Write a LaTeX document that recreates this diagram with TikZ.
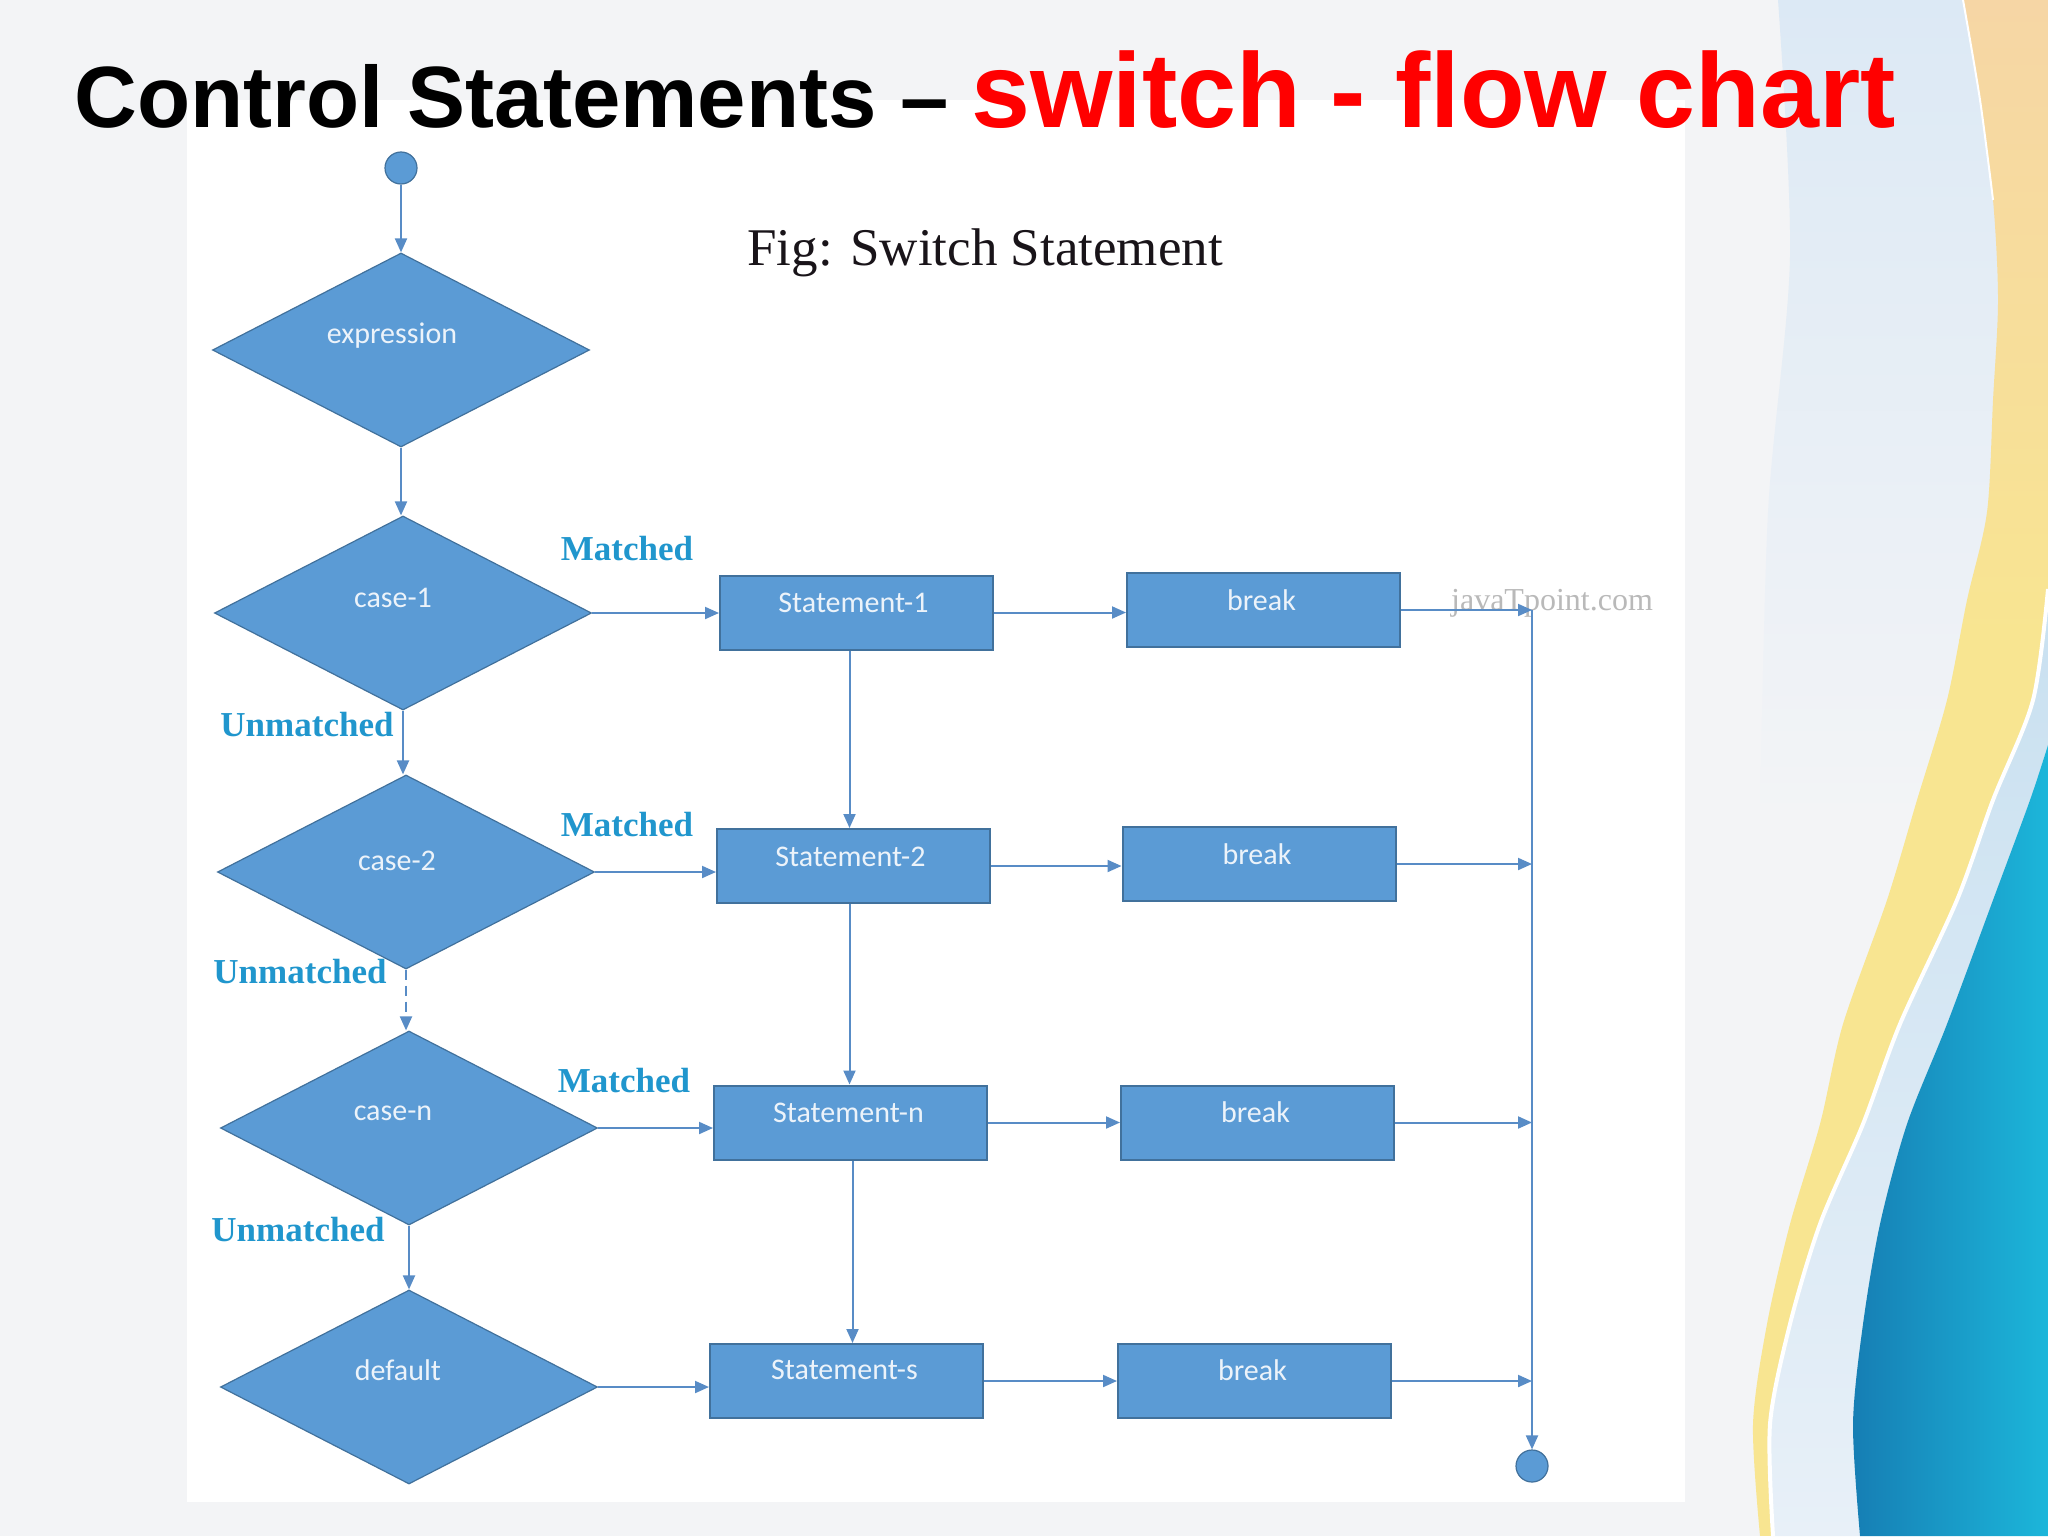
\documentclass[tikz,border=0pt]{standalone}
\usepackage{fontspec}
\setmainfont{Liberation Serif}
\newfontfamily\titlefont{Liberation Sans}
\newfontfamily\nodefont{Carlito}
\usetikzlibrary{shapes.geometric,arrows.meta,calc}

\definecolor{boxfill}{RGB}{91,155,213}
\definecolor{boxline}{RGB}{65,113,156}
\definecolor{arrcol}{RGB}{88,140,198}
\definecolor{lblcol}{RGB}{32,150,205}
\definecolor{ntext}{RGB}{236,243,250}
\definecolor{slidebg}{RGB}{243,244,246}
\definecolor{titlered}{RGB}{255,0,0}
\definecolor{peach}{RGB}{246,214,165}
\definecolor{sand}{RGB}{248,229,145}
\definecolor{paleblue}{RGB}{200,224,240}
\definecolor{paleblue2}{RGB}{232,240,248}
\definecolor{tealdark}{RGB}{22,126,180}
\definecolor{teallight}{RGB}{28,182,218}
\definecolor{topblue}{RGB}{220,233,245}
\definecolor{wmark}{RGB}{185,185,185}
\definecolor{captxt}{RGB}{25,20,25}

\begin{document}
\begin{tikzpicture}[x=0.5pt,y=-0.5pt,
  dia/.style={diamond, fill=boxfill, draw=boxline, line width=0.6pt,
    minimum width=188.5pt, minimum height=97pt, inner sep=0pt},
  boxn/.style={rectangle, fill=boxfill, draw=boxline, line width=1pt,
    minimum width=136.5pt, minimum height=37pt, inner sep=0pt},
  ntxt/.style={font=\nodefont\fontsize{15}{18}\selectfont, text=ntext, inner sep=0pt},
  lbl/.style={font=\bfseries\fontsize{17.5}{20}\selectfont, text=lblcol, inner sep=0pt},
  arr/.style={draw=arrcol, line width=1pt, -{Triangle[length=7pt,width=6pt]}},
  term/.style={circle, fill=boxfill, draw=boxline, line width=0.6pt,
    minimum size=16pt, inner sep=0pt}]

\useasboundingbox (0,0) rectangle (2048,1536);

% ---------- slide background ----------
\fill[slidebg] (0,0) rectangle (2048,1536);
\shade[top color=topblue, bottom color=slidebg]
  plot[smooth] coordinates {(1778,0) (1790,256) (1768,512) (1760,820)}
  -- (2000,820) -- (2000,0) -- cycle;
\begin{scope}
  \clip plot[smooth] coordinates {(1963,0) (1980,100) (1993,200) (1998,300) (1993,400)
    (1987,512) (1967,600) (1947,700) (1917,800) (1887,900) (1843,1024)
    (1820,1124) (1790,1224) (1767,1324) (1753,1424) (1760,1536)}
  -- plot[smooth] coordinates {(1773,1536) (1770,1424) (1790,1324) (1820,1224)
    (1863,1124) (1900,1024) (1957,900) (1993,800) (2033,700) (2048,589)}
  -- (2048,0) -- cycle;
  \shade[top color=peach, bottom color=sand] (1700,0) rectangle (2048,640);
  \fill[sand] (1700,639) rectangle (2048,1536);
\end{scope}
\shade[top color=paleblue, bottom color=paleblue2]
  plot[smooth] coordinates {(2048,589) (2033,700) (1993,800) (1957,900) (1900,1024)
    (1863,1124) (1820,1224) (1790,1324) (1770,1424) (1773,1536)}
  -- plot[smooth] coordinates {(1860,1536) (1853,1424) (1863,1324) (1880,1224)
    (1907,1124) (1947,1024) (1993,900) (2030,800) (2048,745)}
  -- cycle;
\shade[left color=tealdark, right color=teallight]
  plot[smooth] coordinates {(2048,745) (2030,800) (1993,900) (1947,1024) (1907,1124)
    (1880,1224) (1863,1324) (1853,1424) (1860,1536)}
  -- (2048,1536) -- cycle;
\draw[white, line width=2pt]
  plot[smooth] coordinates {(2048,589) (2033,700) (1993,800) (1957,900) (1900,1024)
    (1863,1124) (1820,1224) (1790,1324) (1770,1424) (1773,1536)};
\draw[white, line width=1pt]
  plot[smooth] coordinates {(1963,0) (1980,100) (1993,200)};

% ---------- diagram area ----------
\fill[white] (187,100) rectangle (1685,1502);

% ---------- title ----------
\node[anchor=base west, inner sep=0pt, font=\titlefont\bfseries\fontsize{43.5}{50}\selectfont]
  (t1) at (74,127) {Control Statements –};
\node[anchor=base west, inner sep=0pt, text=titlered,
  font=\titlefont\bfseries\fontsize{53}{60}\selectfont]
  (t2) at (971,127) {switch - flow chart};

\node[anchor=base west, inner sep=0pt, text=captxt, font=\fontsize{26.5}{30}\selectfont]
  (cap) at (747,265) {Fig: Switch Statement};

\node[text=wmark, font=\fontsize{16}{18}\selectfont, inner sep=0pt] (wm) at (1552,603) {javaTpoint.com};

% ---------- nodes ----------
\node[term] (st) at (401,168) {};
\node[dia, label={[ntxt,xshift=-4.5pt,yshift=7pt]center:expression}] (ex) at (401,350) {};
\node[dia, label={[ntxt,xshift=-5pt,yshift=7.5pt]center:case-1}] (c1) at (403,613) {};
\node[dia, label={[ntxt,xshift=-4.5pt,yshift=5.5pt]center:case-2}] (c2) at (406,872) {};
\node[dia, label={[ntxt,xshift=-8pt,yshift=7.5pt]center:case-n}] (cn) at (409,1128) {};
\node[dia, label={[ntxt,xshift=-5.5pt,yshift=8.5pt]center:default}] (df) at (409,1387) {};

\node[boxn, label={[ntxt,xshift=-1.5pt,yshift=5pt]center:Statement-1}] (s1) at (856.5,612.5) {};
\node[boxn, label={[ntxt,xshift=-1pt,yshift=5pt]center:break}] (b1) at (1263.5,610) {};
\node[boxn, label={[ntxt,xshift=-1.5pt,yshift=4.5pt]center:Statement-2}] (s2) at (853.5,866) {};
\node[boxn, label={[ntxt,xshift=-1pt,yshift=5pt]center:break}] (b2) at (1259,864) {};
\node[boxn, label={[ntxt,xshift=-1pt,yshift=5pt]center:Statement-n}] (sn) at (850.5,1122.5) {};
\node[boxn, label={[ntxt,xshift=-1pt,yshift=5pt]center:break}] (bn) at (1257.5,1122.5) {};
\node[boxn, label={[ntxt,xshift=-1pt,yshift=5.5pt]center:Statement-s}] (ss) at (846.5,1381) {};
\node[boxn, label={[ntxt,xshift=-1pt,yshift=5.5pt]center:break}] (bs) at (1254.5,1381) {};

\node[term] (en) at (1532,1466) {};
\coordinate (jn) at (1532,607);

% ---------- labels ----------
\node[lbl] (m1) at (627,549) {Matched};
\node[lbl] (m2) at (627,825) {Matched};
\node[lbl] (m3) at (624,1081) {Matched};
\node[lbl] (u1) at (307,725) {Unmatched};
\node[lbl] (u2) at (300,972) {Unmatched};
\node[lbl] (u3) at (298,1230) {Unmatched};

% ---------- connectors ----------
\draw[arr] (st) -- (ex.north);
\draw[arr] (ex.south) -- (ex.south |- c1.north);
\draw[arr] (c1.south) -- (c1.south |- c2.north);
\draw[arr, dash pattern=on 5pt off 3pt] (c2.south) -- (c2.south |- cn.north);
\draw[arr] (cn.south) -- (df.north);

\draw[arr] (c1.east) -- (c1.east -| s1.west);
\draw[arr] (c2.east) -- (c2.east -| s2.west);
\draw[arr] (cn.east) -- (cn.east -| sn.west);
\draw[arr] (df.east) -- (df.east -| ss.west);

\draw[arr] (s1.east) -- (s1.east -| b1.west);
\draw[arr] (s2.east) -- (s2.east -| b2.west);
\draw[arr] (sn.east) -- (sn.east -| bn.west);
\draw[arr] (ss.east) -- (ss.east -| bs.west);

\draw[arr] ([xshift=-3.5pt]s1.south) -- ([xshift=-3.5pt]s1.south |- s2.north);
\draw[arr] ([xshift=-2pt]s2.south) -- ([xshift=-2pt]s2.south |- sn.north);
\draw[arr] ([xshift=1pt]sn.south) -- ([xshift=1pt]sn.south |- ss.north);

\draw[arr] (b1.east) -- (b1.east -| jn);
\draw[arr] (b2.east) -- (b2.east -| jn);
\draw[arr] (bn.east) -- (bn.east -| jn);
\draw[arr] (bs.east) -- (bs.east -| jn);
\draw[arr] (b1.east -| jn) -- (en.north);

\end{tikzpicture}
\end{document}
